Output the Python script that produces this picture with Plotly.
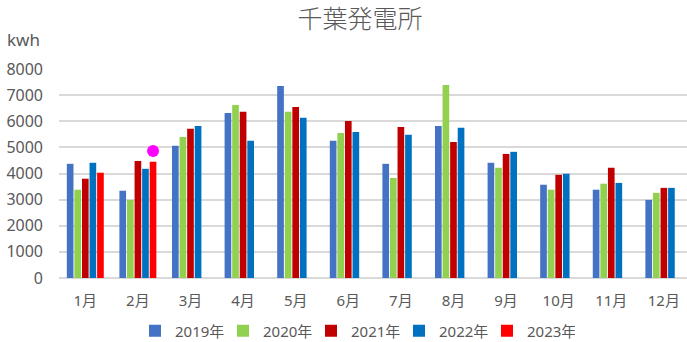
import plotly.graph_objects as go

months = ["1月", "2月", "3月", "4月", "5月", "6月", "7月", "8月", "9月", "10月", "11月", "12月"]

kwh_2019 = [4370, 3340, 5060, 6320, 7350, 5250, 4370, 5820, 4410, 3570, 3380, 2990]
kwh_2020 = [3380, 2990, 5400, 6620, 6360, 5550, 3830, 7390, 4220, 3380, 3610, 3260]
kwh_2021 = [3800, 4480, 5710, 6360, 6550, 6010, 5780, 5210, 4750, 3950, 4220, 3450]
kwh_2022 = [4410, 4180, 5820, 5250, 6130, 5590, 5480, 5750, 4830, 3990, 3640, 3450]
kwh_2023 = [4030, 4450, None, None, None, None, None, None, None, None, None, None]

# single highlighted reading for February 2023
marker_month_index = 1
marker_value = 4860

series = [
    ("2019年", kwh_2019, "#4472C4"),
    ("2020年", kwh_2020, "#92D050"),
    ("2021年", kwh_2021, "#C00000"),
    ("2022年", kwh_2022, "#0070C0"),
    ("2023年", kwh_2023, "#FF0000"),
]

BARGAP = 0.28
BARGROUPGAP = 0.12
X_RANGE = [-0.5, 11.44]

fig = go.Figure()
for name, vals, color in series:
    fig.add_trace(go.Bar(name=name, x=months, y=vals, marker_color=color,
                         marker_line_width=0))

# place the dot over the 2023 slot of its month group
n_series = len(series)
slot = (1 - BARGAP) / n_series
slot_offset = slot * (n_series - 1 - (n_series - 1) / 2)
fig.add_trace(go.Scatter(
    x=[marker_month_index + slot_offset], y=[marker_value],
    mode="markers", marker=dict(color="#FF00FF", size=12),
    xaxis="x2", showlegend=False, hoverinfo="skip",
))

font_family = "Noto Sans, Noto Sans CJK JP, sans-serif"
grey = "#595959"

fig.update_layout(
    width=687, height=342,
    margin=dict(l=59, r=0, t=69, b=64, autoexpand=False),
    paper_bgcolor="white", plot_bgcolor="white",
    barmode="group", bargap=BARGAP, bargroupgap=BARGROUPGAP,
    font=dict(family=font_family, color=grey, size=15),
    title=dict(text="千葉発電所", x=0.524, xanchor="center", y=0.945, yanchor="middle",
               font=dict(family="Noto Sans CJK JP", size=25, color=grey, weight=300)),
    xaxis=dict(range=X_RANGE, showgrid=False, showline=False, ticks="",
               ticklabelstandoff=12, tickfont=dict(size=15, color=grey)),
    xaxis2=dict(range=X_RANGE, overlaying="x", visible=False),
    yaxis=dict(range=[0, 8000], dtick=1000, showgrid=True, gridcolor="#D9D9D9",
               gridwidth=1.5, zeroline=True, zerolinecolor="#D9D9D9", zerolinewidth=1.5,
               showline=False, ticks="", ticklabelstandoff=15,
               tickfont=dict(size=16, color=grey)),
    legend=dict(orientation="h", x=(135 - 59) / 628, xanchor="left",
                yref="container", y=1 - 331 / 342, yanchor="middle",
                font=dict(size=15, color=grey), entrywidth=43, entrywidthmode="pixels",
                itemwidth=30, tracegroupgap=0, traceorder="normal"),
    annotations=[dict(text="kwh", xref="paper", yref="paper", x=-0.027, y=1.14,
                      xanchor="right", yanchor="middle", showarrow=False,
                      font=dict(size=17, color=grey))],
)

fig.write_html("out.html")
